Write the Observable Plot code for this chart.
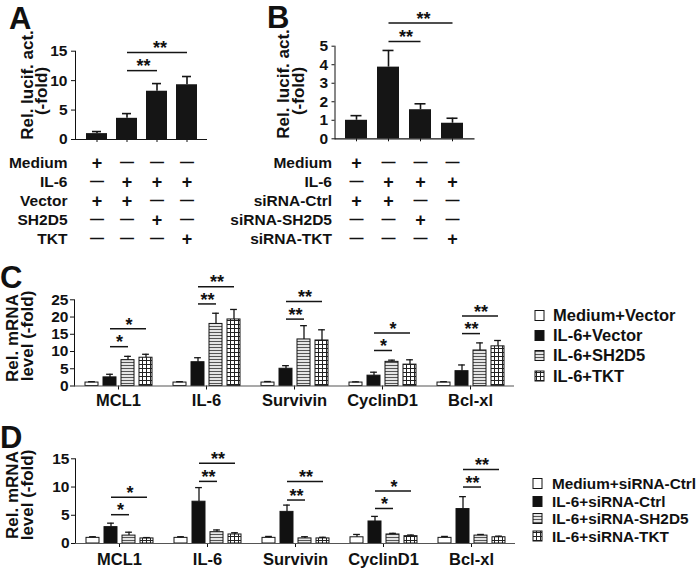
<!DOCTYPE html>
<html><head><meta charset="utf-8">
<script src="https://cdn.jsdelivr.net/npm/d3@7"></script>
<script src="https://cdn.jsdelivr.net/npm/@observablehq/plot@0.6"></script>
<style>
body{margin:0;background:#fff;}
#fig{position:relative;width:700px;height:569px;overflow:hidden;background:#fff;}
</style></head><body>
<svg width="0" height="0" style="position:absolute">
<defs>
<pattern id="hstripe" width="4" height="3" patternUnits="userSpaceOnUse"><rect width="4" height="3" fill="#e4e4e4"/><rect width="4" height="1" fill="#555"/></pattern>
<pattern id="grid" width="4" height="4" patternUnits="userSpaceOnUse"><rect width="4" height="4" fill="#fff"/><rect width="4" height="1" fill="#222"/><rect width="1" height="4" fill="#222"/></pattern>
</defs></svg>
<div id="fig"></div>
<script>
// ---------- DATA ----------
const conds = ["1", "2", "3", "4"];

// Panel A
const meanA = [1.0, 3.6, 8.2, 9.3];
const errA = [1.35, 4.4, 9.5, 10.7];
const rowsA = ["Medium", "IL-6", "Vector", "SH2D5", "TKT"];
const signsA = [["+","-","-","-"], ["-","+","+","+"], ["+","+","-","-"], ["-","-","+","-"], ["-","-","-","+"]];
const sigFromA = ["2", "2"];
const sigToA = ["3", "4"];
const sigYA = [11.7, 14.8];
const sigLabelA = ["**", "**"];

// Panel B
const meanB = [1.0, 3.87, 1.57, 0.84];
const errB = [1.25, 4.77, 1.89, 1.11];
const rowsB = ["Medium", "IL-6", "siRNA-Ctrl", "siRNA-SH2D5", "siRNA-TKT"];
const signsB = [["+","-","-","-"], ["-","+","+","+"], ["+","+","-","-"], ["-","-","+","-"], ["-","-","-","+"]];
const sigFromB = ["2", "2"];
const sigToB = ["3", "4"];
const sigYB = [5.26, 6.25];
const sigLabelB = ["**", "**"];

// Panels C / D
const genes = ["MCL1", "IL-6", "Survivin", "CyclinD1", "Bcl-xl"];
const seriesC = ["Medium+Vector", "IL-6+Vector", "IL-6+SH2D5", "IL-6+TKT"];
const meanC = [[1.0, 2.5, 7.5, 8.2], [1.0, 6.9, 18.0, 19.3], [1.0, 5.0, 13.5, 13.2], [1.0, 3.0, 7.0, 6.2], [1.0, 4.3, 10.3, 11.5]];
const errC = [[1.25, 3.4, 8.6, 9.2], [1.25, 8.2, 21.1, 22.2], [1.3, 5.9, 17.5, 16.3], [1.2, 4.0, 7.5, 7.6], [1.25, 6.1, 12.5, 13.2]];
const sigLoC = [11.4, 23.8, 19.4, 10.3, 15.2];
const sigHiC = [16.6, 28.8, 24.5, 15.4, 20.3];
const sigLabelC = ["*", "**", "**", "*", "**"];

const seriesD = ["Medium+siRNA-Ctrl", "IL-6+siRNA-Ctrl", "IL-6+siRNA-SH2D5", "IL-6+siRNA-TKT"];
const meanD = [[1.0, 2.9, 1.4, 0.9], [1.0, 7.4, 2.0, 1.6], [1.0, 5.6, 0.9, 0.9], [1.1, 3.9, 1.6, 1.3], [1.0, 6.1, 1.4, 1.1]];
const errD = [[1.2, 3.6, 2.0, 1.05], [1.2, 9.9, 2.4, 1.9], [1.25, 6.8, 1.2, 1.1], [1.6, 4.8, 1.8, 1.5], [1.25, 8.3, 1.6, 1.3]];
const sigLoD = [5.1, 11.0, 7.7, 6.2, 10.0];
const sigHiD = [8.2, 14.2, 11.0, 9.3, 13.1];
const sigLabelD = ["*", "**", "**", "*", "**"];

const fills = ["#ffffff", "#111111", "url(#hstripe)", "url(#grid)"];

// ---------- HELPERS ----------
const FONT = '"Liberation Sans", Arial, Helvetica, sans-serif';
const fig = document.getElementById("fig");
function place(node, left, top) {
  node.style.position = "absolute";
  node.style.left = left + "px";
  node.style.top = top + "px";
  fig.appendChild(node);
  return node;
}
const baseStyle = (fs) => ({background: "transparent", fontFamily: FONT, fontWeight: "bold", fontSize: fs, color: "#111", overflow: "visible"});
const STAR = 18;

function barPanel(o) {
  const data = conds.map((c, i) => ({c, v: o.mean[i], e: o.err[i]}));
  const sig = o.sigFrom.map((f, i) => ({from: f, to: o.sigTo[i], y: o.sigY[i], label: o.sigLabel[i]}));
  const n = conds.length;
  const step = (o.width - o.ml - o.mr) / n;
  const textMarks = sig.map(s => Plot.text([s], {
    x: "from", y: "y", text: "label", fontSize: STAR, fontWeight: "bold", fill: "#111",
    dx: (conds.indexOf(s.to) - conds.indexOf(s.from)) * step / 2, dy: -4
  }));
  const svg = Plot.plot({
    width: o.width, height: o.height,
    marginLeft: o.ml, marginRight: o.mr, marginTop: o.mt, marginBottom: o.mb,
    style: baseStyle("15.5px"),
    x: {type: "band", domain: conds, padding: o.pad, axis: "bottom", tickSize: 3, tickFormat: () => "", label: null},
    y: {domain: o.domainY, ticks: o.ticks, tickFormat: d => String(d), tickSize: o.ts, tickPadding: o.tp, line: true, label: null},
    marks: [
      Plot.barY(data, {x: "c", y: "v", fill: "#151515"}),
      Plot.ruleX(data, {x: "c", y1: "v", y2: "e", stroke: "#151515", strokeWidth: 1.6}),
      Plot.tickY(data, {x: "c", y: "e", stroke: "#151515", strokeWidth: 1.6, insetLeft: o.cap, insetRight: o.cap}),
      Plot.ruleY([0], {stroke: "#151515", strokeWidth: 1.2}),
      Plot.link(sig, {x1: "from", x2: "to", y1: "y", y2: "y", stroke: "#151515", strokeWidth: 1.5}),
      ...textMarks
    ]
  });
  place(svg, o.left, o.top);
}

function tablePanel(o) {
  const cells = [];
  o.rows.forEach((r, i) => o.signs[i].forEach((s, j) => cells.push({row: r, c: conds[j], s})));
  const svg = Plot.plot({
    width: o.width, height: 100,
    marginLeft: o.ml, marginRight: o.mr, marginTop: 2.5, marginBottom: 2.5,
    style: baseStyle("15.5px"),
    x: {type: "band", domain: conds, padding: o.pad, axis: null},
    y: {type: "band", domain: o.rows, padding: 0, tickSize: 0, tickPadding: o.tp, label: null},
    marks: [
      Plot.text(cells.filter(d => d.s === "+"), {x: "c", y: "row", text: () => "+", fontSize: 18, fontWeight: "bold", fill: "#111"}),
      Plot.text(cells.filter(d => d.s === "-"), {x: "c", y: "row", text: () => "\u2014", fontSize: 14, fontWeight: "bold", fill: "#111"})
    ]
  });
  place(svg, o.left, o.top);
}

function groupPanel(o) {
  const data = [];
  genes.forEach((g, gi) => o.series.forEach((s, si) => data.push({g, s, v: o.mean[gi][si], e: o.err[gi][si], f: fills[si]})));
  const lo = genes.map((g, gi) => ({g, from: o.series[1], to: o.series[2], y: o.sigLo[gi], label: o.sigLabel[gi]}));
  const hi = genes.map((g, gi) => ({g, from: o.series[1], to: o.series[3], y: o.sigHi[gi], label: o.sigLabel[gi]}));
  const fxW = (o.width - o.ml - o.mr) / genes.length;
  const pi = 0.3, po = 0.5;
  const step = fxW / (o.series.length - pi + 2 * po);
  const bw = step * (1 - pi);
  const cap = (bw - 7) / 2;
  const svg = Plot.plot({
    width: o.width, height: o.height,
    marginLeft: o.ml, marginRight: o.mr, marginTop: o.mt, marginBottom: o.mb,
    style: baseStyle("15.5px"),
    fx: {domain: genes, padding: 0, axis: "bottom", tickSize: 4, tickPadding: o.fxPad, label: null},
    x: {type: "band", domain: o.series, paddingInner: pi, paddingOuter: po, axis: null},
    y: {domain: o.domainY, ticks: o.ticks, tickSize: 4, tickPadding: 2, line: true, label: null},
    marks: [
      Plot.barY(data, {fx: "g", x: "s", y: "v", fill: "f", stroke: "#151515", strokeWidth: 1}),
      Plot.ruleX(data, {fx: "g", x: "s", y1: "v", y2: "e", stroke: "#151515", strokeWidth: 1.3}),
      Plot.tickY(data, {fx: "g", x: "s", y: "e", stroke: "#151515", strokeWidth: 1.3, insetLeft: cap, insetRight: cap}),
      Plot.ruleY([0], {stroke: "#555", strokeWidth: 1.2}),
      Plot.link(lo, {fx: "g", x1: "from", x2: "to", y1: "y", y2: "y", stroke: "#151515", strokeWidth: 1.5}),
      Plot.link(hi, {fx: "g", x1: "from", x2: "to", y1: "y", y2: "y", stroke: "#151515", strokeWidth: 1.5}),
      Plot.text(lo, {fx: "g", x: "from", y: "y", text: "label", dx: step / 2, dy: -4, fontSize: STAR, fontWeight: "bold", fill: "#111"}),
      Plot.text(hi, {fx: "g", x: "from", y: "y", text: "label", dx: step, dy: -4, fontSize: STAR, fontWeight: "bold", fill: "#111"})
    ]
  });
  d3.select(svg).selectAll('[aria-label^="fx-axis"]').attr("font-size", 16.5).selectAll("text").attr("font-size", 16.5);
  place(svg, o.left, o.top);
}

// ---------- PANELS ----------
barPanel({left: 0, top: 0, width: 250, height: 150, ml: 75, mr: 43, mt: 50.7, mb: 11, pad: 0.3,
  domainY: [0, 15], ticks: [0, 5, 10, 15], ts: 4, tp: 4, cap: 6,
  mean: meanA, err: errA, sigFrom: sigFromA, sigTo: sigToA, sigY: sigYA, sigLabel: sigLabelA});
barPanel({left: 250, top: 0, width: 250, height: 150, ml: 84.5, mr: 25.5, mt: 45.7, mb: 11.7, pad: 0.31,
  domainY: [0, 5], ticks: [0, 1, 2, 3, 4, 5], ts: 3, tp: 4, cap: 5.5,
  mean: meanB, err: errB, sigFrom: sigFromB, sigTo: sigToB, sigY: sigYB, sigLabel: sigLabelB});
tablePanel({left: 0, top: 150, width: 250, ml: 75, mr: 43, pad: 0.3, tp: 8, rows: rowsA, signs: signsA});
tablePanel({left: 200, top: 150, width: 300, ml: 134.5, mr: 25.5, pad: 0.31, tp: 3, rows: rowsB, signs: signsB});
groupPanel({left: 0, top: 260, width: 530, height: 150, ml: 72, mr: 14, mt: 39.3, mb: 24.5, fxPad: 4,
  domainY: [0, 25], ticks: [0, 5, 10, 15, 20, 25], series: seriesC, mean: meanC, err: errC,
  sigLo: sigLoC, sigHi: sigHiC, sigLabel: sigLabelC});
groupPanel({left: 0, top: 420, width: 530, height: 149, ml: 73, mr: 13, mt: 38.3, mb: 26, fxPad: 6,
  domainY: [0, 15], ticks: [0, 5, 10, 15], series: seriesD, mean: meanD, err: errD,
  sigLo: sigLoD, sigHi: sigHiD, sigLabel: sigLabelD});

// ---------- LABELS, LEGENDS ----------
const ov = d3.create("svg").attr("width", 700).attr("height", 569)
  .style("font-family", FONT).style("font-weight", "bold").attr("fill", "#111")
  .style("pointer-events", "none");
const letters = [["A", 9, 29], ["B", 267, 28], ["C", 0, 288], ["D", 0, 448]];
ov.selectAll("text.letter").data(letters).join("text").attr("class", "letter")
  .attr("x", d => d[1]).attr("y", d => d[2]).attr("font-size", 31).text(d => d[0]);

const ylabels = [
  ["Rel. lucif. act.", 27, 85], ["(-fold)", 41, 91],
  ["Rel. lucif. act.", 283, 84], ["(-fold)", 298, 91],
  ["Rel. mRNA", 12, 338], ["level (-fold)", 27, 336],
  ["Rel. mRNA", 12, 495], ["level (-fold)", 27, 495]
];
ov.selectAll("text.yl").data(ylabels).join("text").attr("class", "yl")
  .attr("transform", d => `translate(${d[1]},${d[2]}) rotate(-90)`)
  .attr("text-anchor", "middle").attr("dy", "0.36em").attr("font-size", 17)
  .text(d => d[0]);

function legend(series, bx, tx, ys, fs) {
  const g = ov.append("g");
  series.forEach((s, i) => {
    g.append("rect").attr("x", bx).attr("y", ys[i] - 5).attr("width", 9).attr("height", 10)
      .attr("fill", fills[i]).attr("stroke", "#151515").attr("stroke-width", 1);
    g.append("text").attr("x", tx).attr("y", ys[i]).attr("dy", "0.36em").attr("font-size", fs).text(s);
  });
}
legend(seriesC, 535, 553, [315.5, 335.5, 355.5, 376], 16.5);
legend(seriesD, 533, 552, [483.5, 501.5, 518.5, 536], 15.3);
place(ov.node(), 0, 0);
</script>
</body></html>
